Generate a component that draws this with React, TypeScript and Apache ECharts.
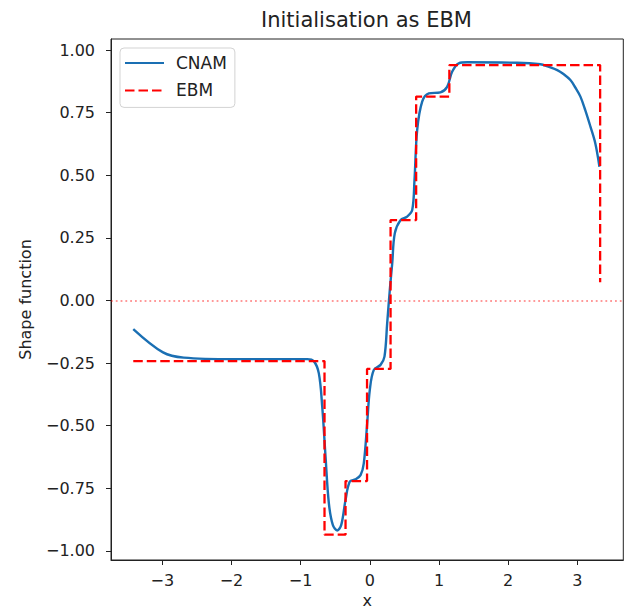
import React, { useEffect, useRef } from "react";
import * as echarts from "echarts";

// CNAM shape function (x, y)
const cnamX = [
  -3.42, -2.99, -2.69, -1.965, -0.905, -0.81, -0.737, -0.688, -0.64, -0.592,
  -0.535, -0.471, -0.413, -0.351, -0.289, -0.207, -0.134, -0.087, -0.038, 0.0,
  0.058, 0.155, 0.212, 0.251, 0.289, 0.324, 0.361, 0.444, 0.54, 0.613,
  0.646, 0.685, 0.757, 0.853, 1.02, 1.118, 1.19, 1.286, 1.41, 2.13,
  2.467, 2.56, 2.71, 2.8, 2.9, 2.97, 3.045, 3.115, 3.19, 3.26, 3.32,
];
const cnamY = [
  -0.114, -0.207, -0.228, -0.234, -0.234, -0.242, -0.291, -0.424, -0.624, -0.81,
  -0.896, -0.918, -0.896, -0.796, -0.723, -0.714, -0.697, -0.65, -0.49, -0.357,
  -0.277, -0.257, -0.224, -0.091, 0.042, 0.148, 0.268, 0.321, 0.335, 0.361,
  0.481, 0.681, 0.794, 0.827, 0.831, 0.853, 0.913, 0.947, 0.951, 0.949,
  0.943, 0.936, 0.92, 0.904, 0.88, 0.851, 0.814, 0.76, 0.694, 0.628, 0.534,
];

// EBM step function: bin edges and value held from each edge (steps-post)
const ebmX = [-3.42, -0.655, -0.351, -0.04, 0.3, 0.67, 1.15, 3.33];
const ebmY = [-0.242, -0.935, -0.721, -0.273, 0.321, 0.814, 0.94, 0.073];

const xTicks = [-3, -2, -1, 0, 1, 2, 3];
const yTicks = [-1, -0.75, -0.5, -0.25, 0, 0.25, 0.5, 0.75, 1];

const FONT = "DejaVu Sans";
const fmtMinus = (s: string) => s.replace("-", "\u2212");

export default function App() {
  const ref = useRef<HTMLDivElement>(null);
  useEffect(() => {
    if (!ref.current) return;
    const chart = echarts.init(ref.current, undefined, { renderer: "svg" });
    const cnamData = cnamX.map((x, i) => [x, cnamY[i]]);
    const ebmData = ebmX.map((x, i) => [x, ebmY[i]]);
    chart.setOption({
      animation: false,
      textStyle: { fontFamily: FONT },
      title: {
        text: "Initialisation as EBM",
        left: 261,
        top: 9,
        padding: 0,
        textStyle: { fontFamily: FONT, fontSize: 21, fontWeight: "normal", color: "#222" },
      },
      legend: {
        data: ["CNAM", "EBM"],
        orient: "vertical",
        left: 120,
        top: 48,
        padding: [6, 8, 8, 4],
        itemWidth: 39,
        itemHeight: 14,
        itemGap: 9.4,
        borderColor: "#d3d3d3",
        borderWidth: 1,
        borderRadius: 4,
        backgroundColor: "rgba(255,255,255,0.8)",
        itemStyle: { opacity: 0 },
        textStyle: { fontFamily: FONT, fontSize: 17, color: "#222", lineHeight: 18, padding: [0, 0, 0, 7] },
      },
      grid: {
        left: 111,
        right: 5.7,
        top: 39,
        bottom: 55,
        show: true,
        borderColor: "#222",
        borderWidth: 1,
        outerBoundsMode: "none",
      },
      xAxis: {
        type: "value",
        min: -3.742,
        max: 3.665,
        name: "x",
        nameLocation: "middle",
        nameGap: 31,
        nameTextStyle: { fontFamily: FONT, fontSize: 16, color: "#222" },
        axisLine: { show: true, onZero: false, lineStyle: { color: "#222", width: 1 } },
        axisTick: { show: true, length: 5, customValues: xTicks, lineStyle: { color: "#222" } },
        axisLabel: {
          customValues: xTicks,
          margin: 12,
          fontSize: 16,
          fontFamily: FONT,
          color: "#222",
          formatter: (v: number) => fmtMinus(String(v)),
        },
        splitLine: { show: false },
      },
      yAxis: {
        type: "value",
        min: -1.036,
        max: 1.044,
        name: "Shape function",
        nameLocation: "middle",
        nameGap: 78,
        nameTextStyle: { fontFamily: FONT, fontSize: 16, color: "#222" },
        axisLine: { show: true, onZero: false, lineStyle: { color: "#222", width: 1 } },
        axisTick: { show: true, length: 5, customValues: yTicks, lineStyle: { color: "#222" } },
        axisLabel: {
          customValues: yTicks,
          margin: 16,
          fontSize: 16,
          fontFamily: FONT,
          color: "#222",
          formatter: (v: number) => fmtMinus(v.toFixed(2)),
        },
        splitLine: { show: false },
      },
      series: [
        {
          name: "zero",
          type: "line",
          data: [],
          z: 1,
          markLine: {
            silent: true,
            symbol: ["none", "none"],
            label: { show: false },
            lineStyle: { color: "rgba(255,0,0,0.4)", type: [1.8, 3], width: 1.8 },
            data: [{ yAxis: 0 }],
          },
        },
        {
          name: "CNAM",
          type: "line",
          data: cnamData,
          showSymbol: false,
          symbol: "none",
          smooth: 0.35,
          z: 2,
          lineStyle: { color: "#1a6fb3", width: 2.4 },
          itemStyle: { color: "#1a6fb3" },
        },
        {
          name: "EBM",
          type: "line",
          data: ebmData,
          step: "end",
          showSymbol: false,
          symbol: "none",
          z: 3,
          lineStyle: { color: "#ff0000", width: 2.3, type: [9.5, 4] },
          itemStyle: { color: "#ff0000" },
        },
      ],
    });
    return () => chart.dispose();
  }, []);
  return (
    <div
      ref={ref}
      style={{ position: "fixed", left: 0, top: 0, width: 629, height: 615, background: "#fff" }}
    />
  );
}
